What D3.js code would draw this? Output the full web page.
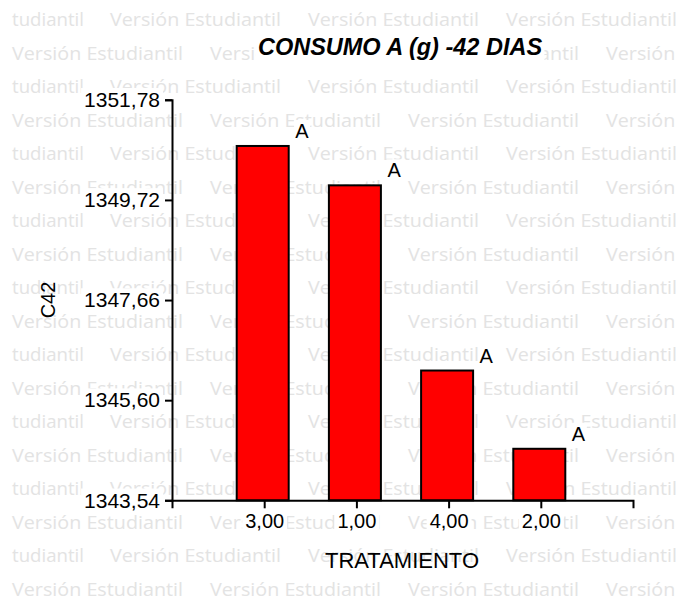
<!DOCTYPE html>
<html>
<head>
<meta charset="utf-8">
<script src="https://cdn.jsdelivr.net/npm/d3@7"></script>
<style>
  body { margin: 0; background: #fff; }
  svg { display: block; }
</style>
</head>
<body>
<svg></svg>
<script>
// chart data
let categories = ['3,00', '1,00', '4,00', '2,00']
let values = [1350.83, 1350.02, 1346.21, 1344.60]
let letters = ['A', 'A', 'A', 'A']
let yTicks = [1343.54, 1345.60, 1347.66, 1349.72, 1351.78]

let width = 676
let height = 602
let plotLeft = 172
let plotRight = 633
let plotTop = 99.8
let plotBottom = 500.3
let font = '"Liberation Sans", Arial, sans-serif'

let svg = d3.select('svg')
let xScale
let yScale

let locale = d3.formatLocale({ decimal: ',', thousands: '.', grouping: [3], currency: ['', ''] })
let fmt = locale.format('.2f')

let drawCanvas = () => {
    svg.attr('width', width)
    svg.attr('height', height)
}

// light "Versión Estudiantil" pattern behind everything
let drawWatermark = () => {
    let g = svg.append('g')
        .attr('fill', '#e3e3e3')
        .style('font-family', '"Open Sans", "DejaVu Sans", sans-serif')
        .style('font-size', '19px')
    for (let i = 0; i < 18; i++) {
        let y = 26 + 33.5 * i
        let starts = i % 2 == 0 ? [110, 308, 506] : [12, 210, 408, 606]
        if (i % 2 == 0) {
            g.append('text').attr('x', 12).attr('y', y)
                .attr('textLength', 72).attr('lengthAdjust', 'spacingAndGlyphs')
                .text('tudiantil')
        }
        starts.forEach(x => {
            g.append('text').attr('x', x).attr('y', y)
                .attr('textLength', 171).attr('lengthAdjust', 'spacingAndGlyphs')
                .text('Versión Estudiantil')
        })
    }
}

// white box behind a text node
let backBox = (sel, padX, padY) => {
    sel.each(function () {
        let b = this.getBBox()
        d3.select(this.parentNode).insert('rect', () => this)
            .attr('x', b.x - padX)
            .attr('y', b.y - padY)
            .attr('width', b.width + padX * 2)
            .attr('height', b.height + padY * 2)
            .attr('fill', '#fff')
    })
}

let generateScales = () => {
    xScale = d3.scalePoint()
        .domain(categories)
        .range([plotLeft, plotRight])
        .padding(1)

    yScale = d3.scaleLinear()
        .domain([yTicks[0], yTicks[yTicks.length - 1]])
        .range([plotBottom, plotTop])
}

let drawTitle = () => {
    let t = svg.append('text')
        .attr('x', 400)
        .attr('y', 55)
        .attr('text-anchor', 'middle')
        .style('font-family', font)
        .style('font-size', '23.5px')
        .style('font-weight', 'bold')
        .style('font-style', 'italic')
        .text('CONSUMO A (g) -42 DIAS')
    backBox(t, 2, 1)
}

let drawBars = () => {
    let data = categories.map((c, i) => ({ c: c, v: values[i], l: letters[i] }))

    svg.selectAll('rect.bar')
        .data(data)
        .enter()
        .append('rect')
        .attr('class', 'bar')
        .attr('x', d => xScale(d.c) - 27.5)
        .attr('width', 52)
        .attr('y', d => yScale(d.v))
        .attr('height', d => yScale(yTicks[0]) - yScale(d.v))
        .attr('fill', '#ff0000')
        .attr('stroke', '#000')
        .attr('stroke-width', 2)

    let labels = svg.append('g')
    labels.selectAll('text')
        .data(data)
        .enter()
        .append('text')
        .attr('x', d => xScale(d.c) + 31)
        .attr('y', d => yScale(d.v) - 8)
        .style('font-family', font)
        .style('font-size', '20px')
        .text(d => d.l)
    backBox(labels.selectAll('text'), 1, 0)
}

let generateAxes = () => {
    let xAxis = d3.axisBottom(xScale).tickSize(8).tickPadding(6)
    let xg = svg.append('g')
        .attr('transform', `translate(0, ${plotBottom})`)
        .call(xAxis)

    let yAxis = d3.axisLeft(yScale).tickValues(yTicks).tickFormat(fmt).tickSize(7).tickPadding(5)
    let yg = svg.append('g')
        .attr('transform', `translate(${plotLeft}, 0)`)
        .call(yAxis)

    ;[xg, yg].forEach(g => {
        g.attr('font-family', null).attr('font-size', null)
        g.selectAll('path, line').attr('stroke', '#000').attr('stroke-width', 2)
        g.selectAll('text').attr('fill', '#000')
            .style('font-family', font)
    })
    xg.selectAll('text').style('font-size', '20px')
    yg.selectAll('text').style('font-size', '21px')
    backBox(xg.selectAll('text'), 3, -2)
    backBox(yg.selectAll('text'), 3, 0)

    svg.append('text')
        .attr('x', 402)
        .attr('y', 568)
        .attr('text-anchor', 'middle')
        .style('font-family', font)
        .style('font-size', '22px')
        .text('TRATAMIENTO')

    svg.append('text')
        .attr('transform', 'translate(55, 300) rotate(-90)')
        .attr('text-anchor', 'middle')
        .style('font-family', font)
        .style('font-size', '20px')
        .text('C42')
}

drawCanvas()
drawWatermark()
generateScales()
drawTitle()
drawBars()
generateAxes()
</script>
</body>
</html>
